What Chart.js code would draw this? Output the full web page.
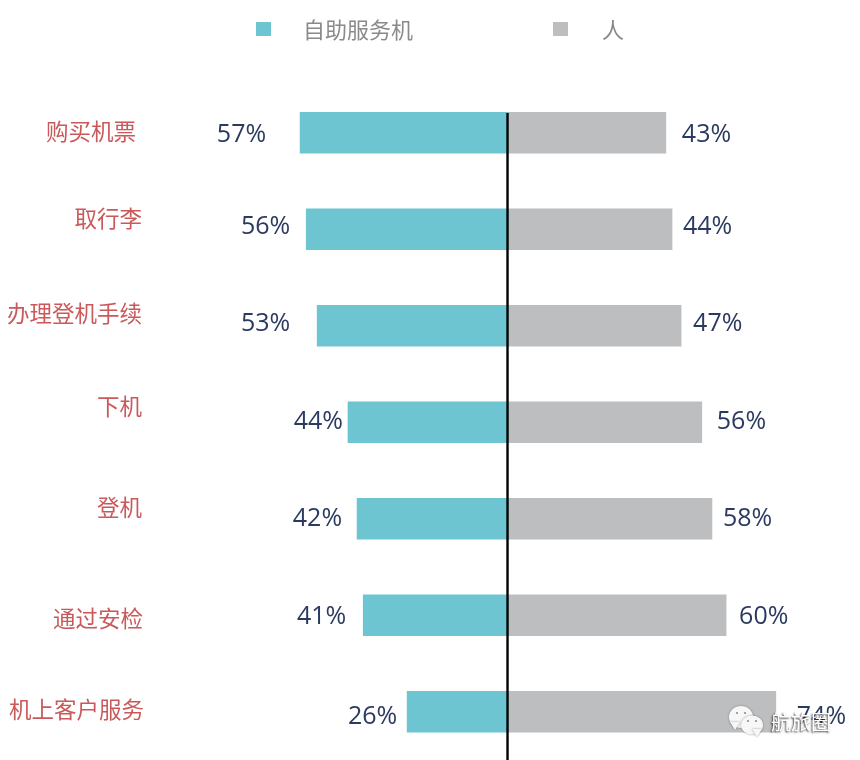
<!DOCTYPE html>
<html lang="zh">
<head>
<meta charset="utf-8">
<style>
html,body{margin:0;padding:0;background:#fff;overflow:hidden}
#wrap{position:relative;width:860px;height:760px}
</style>
<script src="https://cdn.jsdelivr.net/npm/chart.js@4"></script>
</head>
<body>
<div id="wrap"><canvas id="c" width="860" height="760"></canvas></div>
<script>
const categories = ['购买机票','取行李','办理登机手续','下机','登机','通过安检','机上客户服务'];
const seriesNames = ['自助服务机','人'];
// Bar lengths as drawn in the picture (they differ slightly from the printed numbers)
const kioskBars = [57.3,55.6,52.6,44.1,41.6,39.9,27.8];
const humanBars = [43.5,45.2,47.7,53.4,56.2,60.1,73.8];
// Printed value labels
const kioskLabels = ['57%','56%','53%','44%','42%','41%','26%'];
const humanLabels = ['43%','44%','47%','56%','58%','60%','74%'];

// Label placement nudges (layout only)
const catDy = [-1,-11,-12,-16,-11,3,-2];
const catDx = [-6,0,0,0,0,1,2];
const kioskGap = [34,16,27,5,15,17,10];
const humanGap = [16,11,12,15,11,13,21];
const kioskDy = [2,-2,-2,0,0,2,5];
const humanDy = [2,-2,-2,0,0,2,5];

const TEAL='#6cc5d1', GREY='#bdbec0', NAVY='#2b3a60', RED='#c9595b', LEG='#8a8a8a';
const CJK='"Noto Sans CJK SC","Noto Sans",sans-serif';
const LAT='"Open Sans","Noto Sans",sans-serif';

const decor = {
  id:'decor',
  afterDatasetsDraw(chart){
    const {ctx,scales:{x,y}} = chart;
    ctx.save();
    // centre line
    const x0 = x.getPixelForValue(0) - 0.5;
    ctx.strokeStyle='#000'; ctx.lineWidth=2.4;
    ctx.beginPath(); ctx.moveTo(x0,113); ctx.lineTo(x0,760); ctx.stroke();

    // category labels
    ctx.textBaseline='middle'; ctx.textAlign='right';
    ctx.font='22.5px '+CJK; ctx.fillStyle=RED;
    categories.forEach((c,i)=>{
      ctx.fillText(c,142+catDx[i],y.getPixelForTick(i)+catDy[i]);
    });

    // value labels
    ctx.font='25px '+LAT; ctx.fillStyle=NAVY;
    const m0=chart.getDatasetMeta(0).data, m1=chart.getDatasetMeta(1).data;
    kioskLabels.forEach((t,i)=>{
      ctx.textAlign='right';
      ctx.fillText(t,m0[i].x-kioskGap[i],m0[i].y+kioskDy[i]);
    });
    humanLabels.forEach((t,i)=>{
      ctx.textAlign='left';
      ctx.fillText(t,m1[i].x+humanGap[i],m1[i].y+humanDy[i]);
    });

    // legend
    const items=[[256,303],[553,602]];
    ctx.font='22px '+CJK; ctx.textAlign='left';
    chart.data.datasets.forEach((d,i)=>{
      ctx.fillStyle=d.backgroundColor;
      ctx.fillRect(items[i][0],22,15,14);
      ctx.fillStyle=LEG;
      ctx.fillText(d.label,items[i][1],30);
    });

    // watermark
    const bubble=(cx,cy,rx,ry,tx,ty)=>{
      ctx.beginPath(); ctx.ellipse(cx,cy,rx,ry,0,0,Math.PI*2); ctx.fill();
      ctx.beginPath(); ctx.moveTo(cx+tx-5,cy+ty-5); ctx.lineTo(cx+tx,cy+ty+3); ctx.lineTo(cx+tx+5,cy+ty-5); ctx.fill();
    };
    ctx.shadowColor='rgba(60,60,60,.55)'; ctx.shadowBlur=2;
    ctx.fillStyle='#f6f7f6';
    bubble(741,717,12,11,-6,10);
    ctx.fillStyle='#f6f7f6';
    bubble(752,725,11,9.5,5,9);
    ctx.shadowBlur=0;
    ctx.fillStyle='#8a8f8c';
    [[737,713],[745,713],[748,721],[756,721]].forEach(p=>{
      ctx.beginPath(); ctx.arc(p[0],p[1],1.1,0,Math.PI*2); ctx.fill();
    });
    ctx.font='20px '+CJK; ctx.textAlign='left'; ctx.textBaseline='middle';
    ctx.shadowColor='rgba(30,30,30,.9)'; ctx.shadowBlur=2; ctx.shadowOffsetX=-1; ctx.shadowOffsetY=1;
    ctx.fillStyle='#fff';
    ctx.fillText('航旅圈',771,722);
    ctx.restore();
  }
};

new Chart(document.getElementById('c'),{
  type:'bar',
  data:{
    labels:categories,
    datasets:[
      {label:seriesNames[0],data:kioskBars.map(v=>-v),backgroundColor:TEAL,barThickness:41,borderWidth:0},
      {label:seriesNames[1],data:humanBars,backgroundColor:GREY,barThickness:41,borderWidth:0}
    ]
  },
  options:{
    indexAxis:'y',
    responsive:false,
    animation:false,
    layout:{padding:{top:84.5,bottom:-0.5,left:0,right:0}},
    plugins:{legend:{display:false},tooltip:{enabled:false}},
    scales:{
      x:{type:'linear',stacked:true,min:-140,max:97,display:false},
      y:{type:'category',stacked:true,display:false}
    }
  },
  plugins:[decor]
});
</script>
</body>
</html>
